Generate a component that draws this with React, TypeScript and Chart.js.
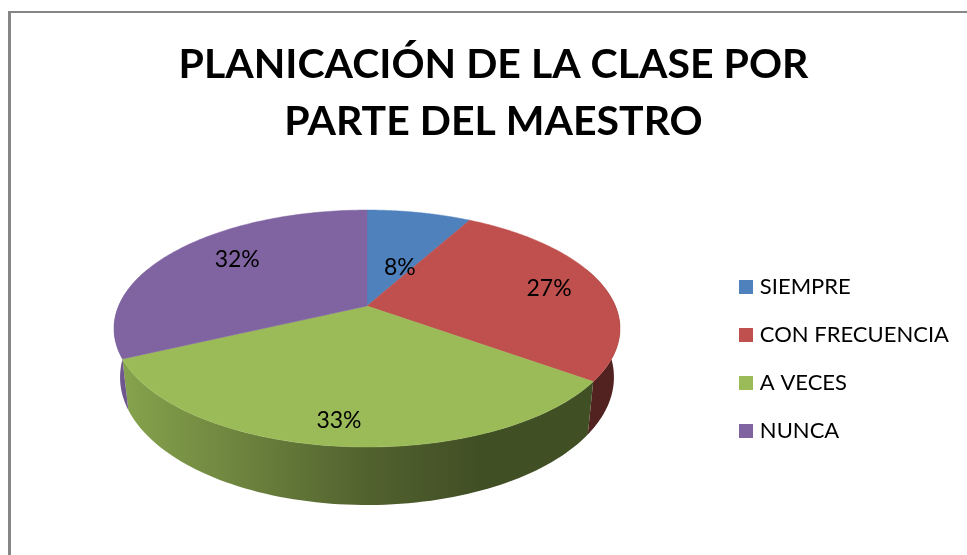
import React, { useEffect, useRef } from "react";
import { Chart, registerables } from "chart.js";

Chart.register(...registerables);

const titleLines = ["PLANICACIÓN DE LA CLASE POR", "PARTE DEL MAESTRO"];
const categories = ["SIEMPRE", "CON FRECUENCIA", "A VECES", "NUNCA"];
const percentages = [8, 27, 33, 32];
const sliceColors = ["#4F81BD", "#C0504D", "#9BBB59", "#8064A2"];

// Perspective pie geometry
const CX = 367, CY = 306, AX = 248.4, AY = 114.2, K = 0.19, DEPTH = 47, BOTTOM_SCALE = 0.976;
const LABEL_R = [0.39, 0.77, 0.85, 0.72];
const LABEL_SHIFT_DEG = [6.9, 1, 1, 5.7];
const SHADE = [[115, 0.88], [370, 0.52], [480, 0.42], [620, 0.42]];

function project(r: number, theta: number) {
  const u = r * Math.sin(theta), v = r * Math.cos(theta), w = 1 + K * v;
  return { x: CX + (AX * u) / w, y: CY - (AY * v) / w, w };
}
function projectBottom(theta: number) {
  const p = project(1, theta);
  return { x: CX + (p.x - CX) * BOTTOM_SCALE, y: p.y + DEPTH / p.w };
}
function rgb(hex: string, f: number) {
  const n = parseInt(hex.slice(1), 16);
  return `rgb(${((n >> 16) & 255) * f},${((n >> 8) & 255) * f},${(n & 255) * f})`;
}
function swatch(color: string) {
  const s = document.createElement("canvas");
  s.width = 14;
  s.height = 14;
  const c = s.getContext("2d")!;
  c.fillStyle = color;
  c.fillRect(0, 0, 14, 14);
  return s;
}

const pie3d = {
  id: "pie3d",
  beforeDraw(chart: any) {
    const c = chart.ctx;
    c.save();
    c.fillStyle = "#fff";
    c.fillRect(0, 0, chart.width, chart.height);
    c.fillStyle = "#868686";
    c.fillRect(8, 11, chart.width - 8, 2);
    c.fillRect(8, 11, 3, chart.height - 11);
    c.restore();
  },
  beforeDatasetDraw(chart: any) {
    const c = chart.ctx;
    const arcs = chart.getDatasetMeta(0).data;
    const minT = (70 * Math.PI) / 180, maxT = (290 * Math.PI) / 180;
    c.save();
    // sides
    arcs.forEach((arc: any) => {
      const a = Math.max(arc.startAngle + Math.PI / 2, minT);
      const b = Math.min(arc.endAngle + Math.PI / 2, maxT);
      if (b <= a) return;
      const color = arc.options.backgroundColor;
      const g = c.createLinearGradient(115, 0, 620, 0);
      SHADE.forEach(([x, f]) => g.addColorStop((x - 115) / 505, rgb(color, f)));
      c.fillStyle = g;
      c.beginPath();
      const n = 80;
      for (let i = 0; i <= n; i++) {
        const p = project(1, a + ((b - a) * i) / n);
        i ? c.lineTo(p.x, p.y) : c.moveTo(p.x, p.y);
      }
      for (let i = n; i >= 0; i--) {
        const p = projectBottom(a + ((b - a) * i) / n);
        c.lineTo(p.x, p.y);
      }
      c.closePath();
      c.fill();
    });
    // top face
    arcs.forEach((arc: any) => {
      const a = arc.startAngle + Math.PI / 2, b = arc.endAngle + Math.PI / 2;
      c.fillStyle = arc.options.backgroundColor;
      c.strokeStyle = arc.options.backgroundColor;
      c.lineWidth = 0.5;
      c.beginPath();
      c.moveTo(CX, CY);
      const n = 120;
      for (let i = 0; i <= n; i++) {
        const p = project(1, a + ((b - a) * i) / n);
        c.lineTo(p.x, p.y);
      }
      c.closePath();
      c.fill();
      c.stroke();
    });
    // labels
    c.fillStyle = "#000";
    c.font = "23px Lato";
    c.textAlign = "center";
    c.textBaseline = "middle";
    arcs.forEach((arc: any, i: number) => {
      const mid = (arc.startAngle + arc.endAngle) / 2 + Math.PI / 2 + (LABEL_SHIFT_DEG[i] * Math.PI) / 180;
      const p = project(LABEL_R[i], mid);
      c.fillText(percentages[i] + "%", p.x, p.y);
    });
    c.restore();
    return false;
  },
};

export default function App() {
  const ref = useRef<HTMLCanvasElement>(null);
  useEffect(() => {
    const baseLabels = Chart.overrides.pie.plugins.legend.labels.generateLabels;
    const chart = new Chart(ref.current!, {
      type: "pie",
      data: {
        labels: categories,
        datasets: [{ data: percentages, backgroundColor: sliceColors, borderWidth: 0 }],
      },
      plugins: [pie3d],
      options: {
        responsive: false,
        animation: false,
        layout: { padding: { left: 28, right: 8, top: 36, bottom: 0 } },
        plugins: {
          tooltip: { enabled: false },
          title: {
            display: true,
            text: titleLines,
            color: "#000",
            font: { family: "Lato", weight: "bold", size: 41, lineHeight: 1.39 },
            padding: { top: 0, bottom: 13 },
          },
          legend: {
            position: "right",
            fullSize: false,
            labels: {
              usePointStyle: true,
              pointStyleWidth: 6,
              boxHeight: 14,
              color: "#000",
              padding: 26,
              font: { family: "Lato", size: 22 },
              generateLabels: (ch: any) =>
                baseLabels(ch).map((item: any, i: number) => ({ ...item, pointStyle: swatch(sliceColors[i]) })),
            },
          },
        },
      },
    } as any);
    return () => chart.destroy();
  }, []);
  return (
    <div style={{ position: "absolute", left: 0, top: 0, width: 967, height: 555 }}>
      <canvas ref={ref} width={967} height={555} style={{ display: "block" }} />
    </div>
  );
}
